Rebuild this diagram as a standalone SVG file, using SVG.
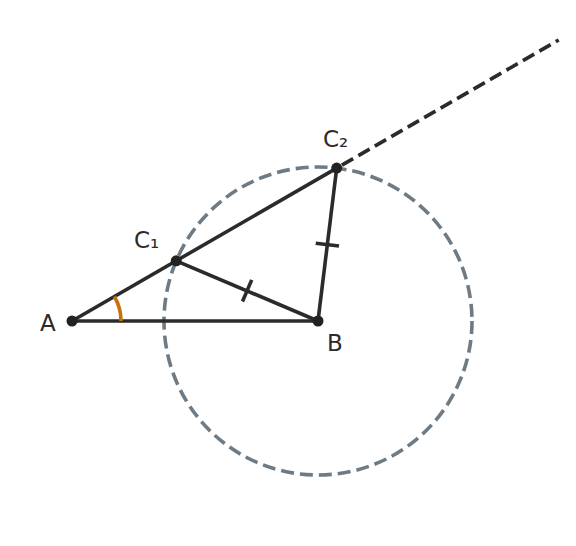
<svg xmlns="http://www.w3.org/2000/svg" width="576" height="546" viewBox="0 0 576 546">
<style>
.line{stroke:#2b2b2b;stroke-width:3.6;fill:none;stroke-linecap:butt}
.dash{stroke-dasharray:13 6}
.circ{stroke:#6f7b84;stroke-width:3.6;fill:none;stroke-dasharray:13 6}
.pt{fill:#222222}
.lbl{font-family:"DejaVu Sans",sans-serif;font-size:23px;fill:#2b2b2b}
</style>
<rect width="576" height="546" fill="#ffffff"/>
<g id="circle"><circle cx="318" cy="321" r="154" class="circ"/></g>
<g id="connectors">
<line x1="72" y1="321" x2="318" y2="321" class="line"/>
<line x1="72" y1="321" x2="336.7" y2="168.1" class="line"/>
<line x1="176.2" y1="260.8" x2="318" y2="321" class="line"/>
<line x1="336.7" y1="168.1" x2="318" y2="321" class="line"/>
<line x1="336.7" y1="168.1" x2="558.7" y2="40" class="line dash" stroke-dashoffset="-6"/>
<line x1="242.5" y1="301.5" x2="251.7" y2="279.9" class="line"/>
<line x1="315.7" y1="243.2" x2="339" y2="246" class="line"/>
<path d="M121 321 A49 49 0 0 0 114.4 296.5" stroke="#c8700a" stroke-width="3.6" fill="none"/>
</g>
<g id="A"><circle cx="72" cy="321" r="5.5" class="pt"/><text x="40" y="331" class="lbl">A</text></g>
<g id="B"><circle cx="318" cy="321" r="5.5" class="pt"/><text x="327" y="351" class="lbl">B</text></g>
<g id="C1"><circle cx="176.2" cy="260.8" r="5.5" class="pt"/><text x="134" y="248" class="lbl">C₁</text></g>
<g id="C2"><circle cx="336.7" cy="168.1" r="5.5" class="pt"/><text x="323" y="147" class="lbl">C₂</text></g>
</svg>
